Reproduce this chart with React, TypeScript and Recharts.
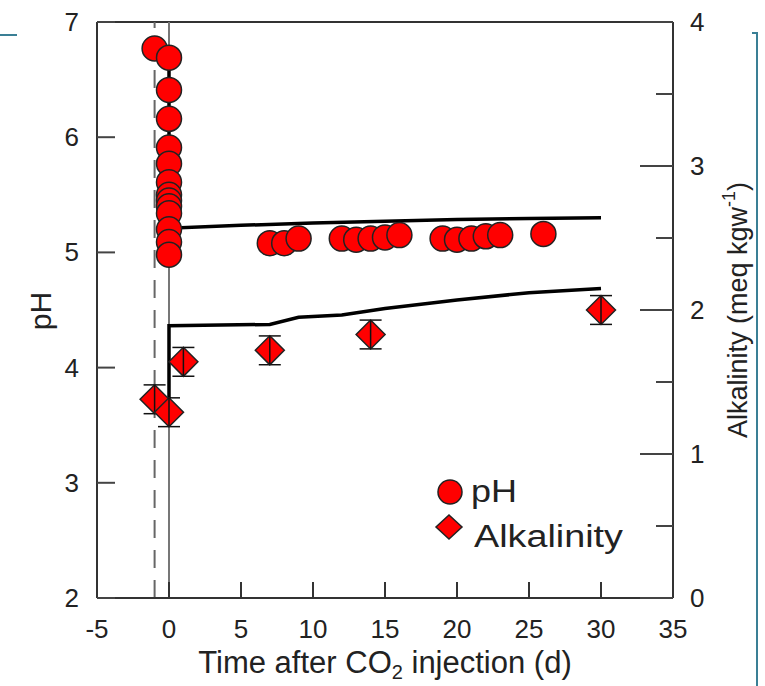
import React from "react";
import {
  ComposedChart,
  XAxis,
  YAxis,
  Line,
  Scatter,
  ErrorBar,
  ReferenceLine,
  Legend,
} from "recharts";

// measured pH (circles)
const phDays = [-1, 0, 0, 0, 0, 0, 0, 0, 0, 0, 0, 0, 0, 0, 7, 8, 9, 12, 13, 14, 15, 16, 19, 20, 21, 22, 23, 26];
const phValues = [
  6.77, 6.69, 6.41, 6.16, 5.91, 5.77, 5.61, 5.5, 5.45, 5.4, 5.34, 5.2, 5.09, 4.98,
  5.08, 5.08, 5.12, 5.12, 5.11, 5.12, 5.13, 5.15, 5.12, 5.11, 5.12, 5.14, 5.15, 5.16,
];

// measured alkalinity (diamonds, meq/kgw) with error
const alkDays = [-1, 0, 1, 7, 14, 30];
const alkValues = [1.38, 1.29, 1.64, 1.72, 1.83, 2.0];
const alkErrors = [0.1, 0.1, 0.1, 0.1, 0.1, 0.1];

// model curves
const phModelDays = [0, 0, 5, 10, 15, 20, 25, 30];
const phModelValues = [6.69, 5.21, 5.235, 5.255, 5.27, 5.285, 5.295, 5.3];
const alkModelDays = [0, 0, 7, 9, 12, 15, 20, 25, 30];
const alkModelValues = [1.22, 1.89, 1.9, 1.95, 1.965, 2.01, 2.07, 2.12, 2.15];

const xTicks = [-5, 0, 5, 10, 15, 20, 25, 30, 35];
const phTicks = [2, 3, 4, 5, 6, 7];
const alkTicks = [0, 0.5, 1, 1.5, 2, 2.5, 3, 3.5, 4];

const phObs = phDays.map((t, i) => ({ t, ph: phValues[i] }));
const alkObs = alkDays.map((t, i) => ({ t, alk: alkValues[i], err: alkErrors[i] }));
const phModel = phModelDays.map((t, i) => ({ t, ph: phModelValues[i] }));
const alkModel = alkModelDays.map((t, i) => ({ t, alk: alkModelValues[i] }));

const FONT = "'Liberation Sans', Arial, sans-serif";
const RED = "#ff0000";
const AXIS = "#333";

const LeftTick = ({ x, y, payload }: any) => (
  <g>
    <line x1={x} x2={x + 18} y1={y} y2={y} stroke="#444" strokeWidth={2} />
    <text x={x - 18} y={y + 9} textAnchor="end" fontSize={26} fill="#222" fontFamily={FONT}>
      {payload.value}
    </text>
  </g>
);

const RightTick = ({ x, y, payload }: any) => {
  const major = Number.isInteger(payload.value);
  return (
    <g>
      <line x1={x - (major ? 33 : 17)} x2={x} y1={y} y2={y} stroke="#444" strokeWidth={2} />
      {major && (
        <text x={x + 17} y={y + 9} textAnchor="start" fontSize={26} fill="#222" fontFamily={FONT}>
          {payload.value}
        </text>
      )}
    </g>
  );
};

const BottomTick = ({ x, y, payload }: any) => (
  <g>
    <line x1={x} x2={x} y1={y} y2={y - 16} stroke="#333" strokeWidth={2} />
    <text x={x} y={y + 40} textAnchor="middle" fontSize={26} fill="#222" fontFamily={FONT}>
      {payload.value}
    </text>
  </g>
);

const Dot = ({ cx, cy }: any) => (
  <circle cx={cx} cy={cy} r={12.5} fill={RED} stroke="#222" strokeWidth={1.5} />
);

const Diamond = ({ cx, cy }: any) => (
  <g>
    <polygon
      points={`${cx},${cy - 14.5} ${cx + 14.5},${cy} ${cx},${cy + 14.5} ${cx - 14.5},${cy}`}
      fill={RED}
      stroke="#222"
      strokeWidth={1.5}
    />
    <line x1={cx} x2={cx} y1={cy - 14.5} y2={cy + 14.5} stroke="#111" strokeWidth={1.5} />
  </g>
);

const LegendBox = () => (
  <svg width={230} height={84} style={{ overflow: "visible" }}>
    <circle cx={14} cy={14} r={12} fill={RED} stroke="#222" strokeWidth={1.5} />
    <text x={35} y={24} fontSize={31} fill="#222" fontFamily={FONT} textLength={46} lengthAdjust="spacingAndGlyphs">
      pH
    </text>
    <polygon points="13,37 26,49 13,61 0,49" fill={RED} stroke="#222" strokeWidth={1.5} />
    <text x={38} y={69} fontSize={31} fill="#222" fontFamily={FONT} textLength={149} lengthAdjust="spacingAndGlyphs">
      Alkalinity
    </text>
  </svg>
);

export default function App() {
  return (
    <div style={{ position: "absolute", left: 0, top: 0, width: 765, height: 686, background: "#fff" }}>
      <ComposedChart width={765} height={686} margin={{ top: 22, right: 0, bottom: 0, left: 0 }}>
        <XAxis
          type="number"
          dataKey="t"
          domain={[-5, 35]}
          ticks={xTicks}
          interval={0}
          height={88}
          tickSize={0}
          tickMargin={0}
          tickLine={false}
          axisLine={{ stroke: AXIS, strokeWidth: 2 }}
          tick={<BottomTick />}
          allowDataOverflow
        />
        <YAxis
          yAxisId="ph"
          type="number"
          domain={[2, 7]}
          ticks={phTicks}
          interval={0}
          width={97}
          tickSize={0}
          tickMargin={0}
          tickLine={false}
          axisLine={{ stroke: AXIS, strokeWidth: 2 }}
          tick={<LeftTick />}
          allowDataOverflow
        />
        <YAxis
          yAxisId="alk"
          orientation="right"
          type="number"
          domain={[0, 4]}
          ticks={alkTicks}
          interval={0}
          width={92}
          tickSize={0}
          tickMargin={0}
          tickLine={false}
          axisLine={{ stroke: AXIS, strokeWidth: 2 }}
          tick={<RightTick />}
          allowDataOverflow
        />
        <ReferenceLine yAxisId="ph" y={7} stroke={AXIS} strokeWidth={2} />
        <ReferenceLine yAxisId="ph" x={-1} stroke="#666" strokeWidth={2} strokeDasharray="18 12" />
        <ReferenceLine yAxisId="ph" x={0} stroke="#777" strokeWidth={2} />
        <Scatter yAxisId="ph" data={phObs} dataKey="ph" name="pH" shape={<Dot />} isAnimationActive={false} />
        <Scatter
          yAxisId="alk"
          data={alkObs}
          dataKey="alk"
          name="Alkalinity"
          shape={<Diamond />}
          isAnimationActive={false}
        >
          <ErrorBar dataKey="err" direction="y" width={11} stroke="#111" strokeWidth={1.5} />
        </Scatter>
        <Line
          yAxisId="ph"
          data={phModel}
          dataKey="ph"
          type="linear"
          stroke="#000"
          strokeWidth={3.5}
          dot={false}
          isAnimationActive={false}
          legendType="none"
        />
        <Line
          yAxisId="alk"
          data={alkModel}
          dataKey="alk"
          type="linear"
          stroke="#000"
          strokeWidth={3.5}
          dot={false}
          isAnimationActive={false}
          legendType="none"
        />
        <Legend
          layout="vertical"
          align="center"
          verticalAlign="middle"
          content={<LegendBox />}
          wrapperStyle={{ left: 436, top: 478, width: 230 }}
        />
      </ComposedChart>
      <svg
        width={765}
        height={686}
        style={{ position: "absolute", left: 0, top: 0, pointerEvents: "none" }}
        fontFamily={FONT}
      >
        <line x1={0} x2={17} y1={35} y2={35} stroke="#3a7f95" strokeWidth={2} />
        <polyline points="752,33 757,33 757,686" fill="none" stroke="#3a7f95" strokeWidth={2} />
        <text x={40} y={311} transform="rotate(-90 40 311)" textAnchor="middle" dominantBaseline="central" fontSize={30} fill="#222">
          pH
        </text>
        <text x={385} y={673} textAnchor="middle" fontSize={31} fill="#222">
          Time after CO<tspan fontSize={20} dy={6}>2</tspan>
          <tspan dy={-6}> injection (d)</tspan>
        </text>
        <text x={738} y={310} transform="rotate(-90 738 310)" textAnchor="middle" dominantBaseline="central" fontSize={27} fill="#222">
          Alkalinity (meq kgw<tspan fontSize={18} dy={-9}>-1</tspan>
          <tspan dy={9}>)</tspan>
        </text>
      </svg>
    </div>
  );
}
